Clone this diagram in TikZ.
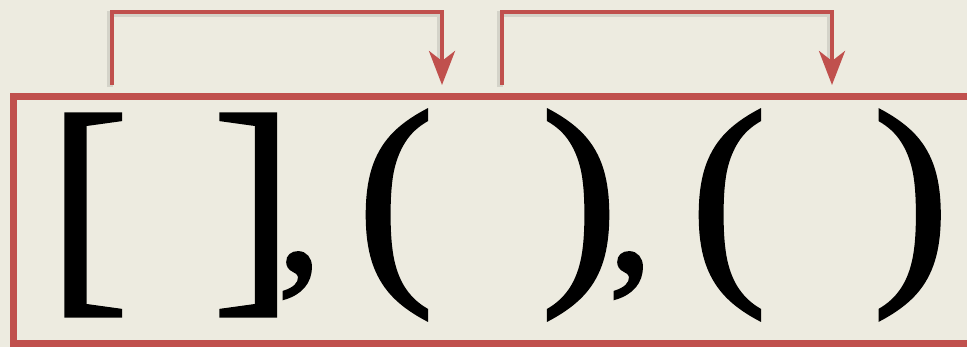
\documentclass[tikz,border=0pt]{standalone}
\usepackage{fontspec}
\setmainfont{Liberation Serif}
\newfontfamily\heavyserif[FakeBold=1.4]{Liberation Serif}
\usepackage{xcolor}
\usetikzlibrary{arrows.meta}
\definecolor{paper}{HTML}{EDEBE0}
\definecolor{brick}{HTML}{C0504D}

\begin{document}
\begin{tikzpicture}[
    x=1pt, y=1pt,
    glyph/.style={inner sep=0pt, outer sep=0pt, text=black},
    brk/.style={glyph, font=\heavyserif\fontsize{244}{244}\selectfont},
    paren/.style={glyph, font=\heavyserif\fontsize{230}{230}\selectfont},
    cma/.style={glyph, font=\heavyserif\fontsize{180}{180}\selectfont},
    frame/.style={draw=brick, line width=7pt},
    arr/.style={draw=brick, line width=4.2pt, -{Stealth[length=34pt, width=26pt, inset=10pt]}},
    shade/.style={draw=black, opacity=0.1, line width=6pt, shorten >=24pt}
]
\fill[paper] (0,0) rectangle (967,347);
\clip (0,0) rectangle (967,347);
\draw[frame] (13.5,3.5) rectangle (1000,250.5);

\node[brk] (lb) at (88.5,132) {[};
\node[brk] (rb) at (253,132) {]};
\node[cma] (c1) at (299.5,71.5) {,};
\node[paren] (lp1) at (395.5,132) {(};
\node[paren] (rp1) at (579.5,132) {)};
\node[cma] (c2) at (630.5,71.5) {,};
\node[paren] (lp2) at (728.5,132) {(};
\node[paren] (rp2) at (911,132) {)};

\coordinate (s1) at (112,262);
\coordinate (e1) at (442,262);
\coordinate (s2) at (502,262);
\coordinate (e2) at (832,262);

\draw[shade, transform canvas={shift={(-2pt,-2pt)}}] (s1) -- ++(0,73) -| (e1);
\draw[shade, transform canvas={shift={(-2pt,-2pt)}}] (s2) -- ++(0,73) -| (e2);
\draw[arr] (s1) -- ++(0,73) -| (e1);
\draw[arr] (s2) -- ++(0,73) -| (e2);
\end{tikzpicture}
\end{document}
